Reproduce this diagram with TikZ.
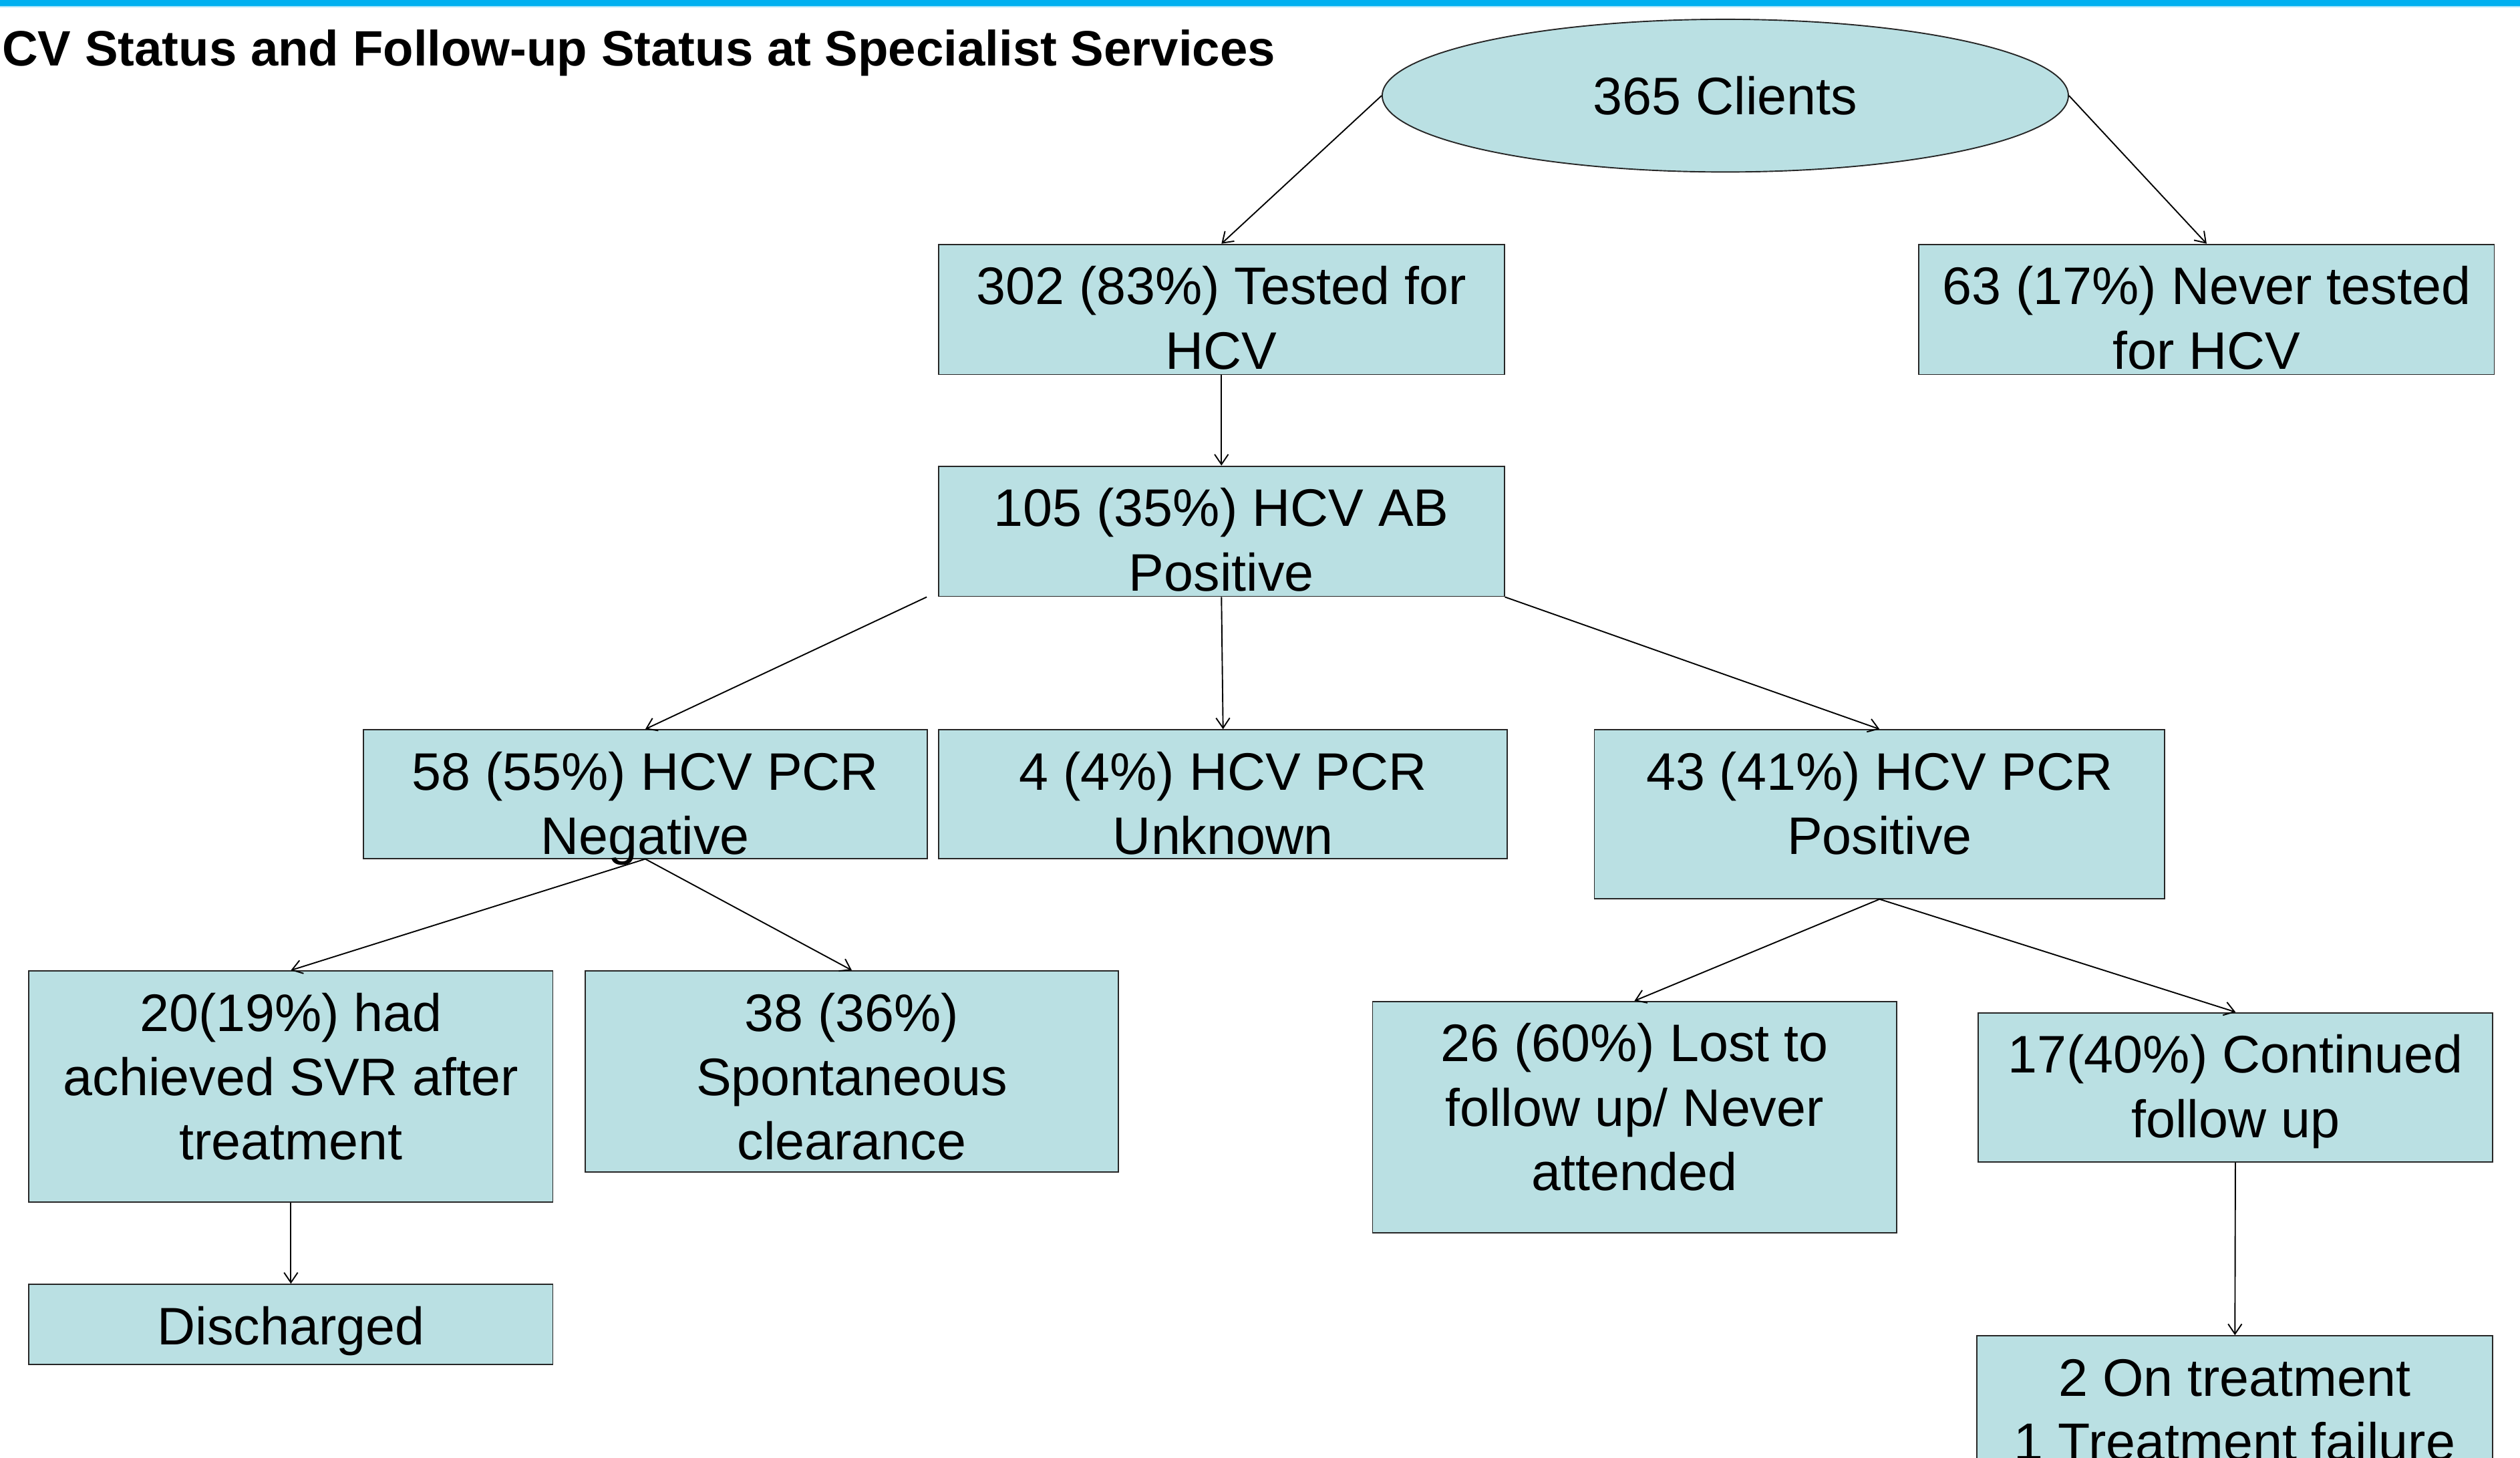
\documentclass[tikz,border=0pt]{standalone}
\usepackage{fontspec}
\setmainfont{Liberation Sans}
\usetikzlibrary{shapes.geometric,arrows.meta}

\definecolor{cajaazul}{RGB}{186,224,227}
\definecolor{barraazul}{RGB}{0,176,240}

\begin{document}
\begin{tikzpicture}[x=0.02cm,y=-0.02cm]

% marco de la figura
\useasboundingbox (0,0) rectangle (1568,906.7);
\clip (0,0) rectangle (1568,906.7);

% estilos de cajas y flechas
\tikzstyle{caja}   = [draw=black!85,line width=0.45pt,fill=cajaazul,align=center,
                      inner sep=0pt,font=\fontsize{18.7}{22.8}\selectfont]
\tikzstyle{flecha} = [line width=0.45pt,-{Straight Barb[length=1.25mm,width=1.7mm]}]

% caja con texto arriba
% #1: nombre de la caja
% #2: ubicación del centro ()
% #3: ancho
% #4: alto
% #5: texto
\newcommand{\caja}[5]{
	\node [caja] (#1) at #2
	{\parbox[c][#4][t]{#3}{\centering\rule{0pt}{0.75cm}#5}};
}

% barra superior
\fill [barraazul] (0,0) rectangle (1568,3.7);
\fill [barraazul!35] (0,3.7) rectangle (1568,4.4);

% titulo
\node [anchor=base west,inner sep=0pt,font=\bfseries\fontsize{17.6}{21}\selectfont]
	(titulo) at (1,41) {CV Status and Follow-up Status at Specialist Services};

% cajas
\node [caja,ellipse,minimum width=8.54cm,minimum height=1.9cm] (clientes) at (1073.5,59.5) {365 Clients};
\caja{testeados}{(760,192.5)}{7.04cm}{1.62cm}{302 (83\%) Tested for\\HCV}
\caja{nunca}{(1373,192.5)}{7.16cm}{1.62cm}{63 (17\%) Never tested\\for HCV}
\caja{abpos}{(760,330.5)}{7.04cm}{1.62cm}{105 (35\%) HCV AB\\Positive}
\caja{pcrneg}{(401.5,494)}{7.02cm}{1.6cm}{58 (55\%) HCV PCR\\Negative}
\caja{pcrdes}{(761,494)}{7.08cm}{1.6cm}{4 (4\%) HCV PCR\\Unknown}
\caja{pcrpos}{(1169.5,506.5)}{7.1cm}{2.1cm}{43 (41\%) HCV PCR\\Positive}
\caja{svr}{(181,676)}{6.52cm}{2.88cm}{20(19\%) had\\achieved SVR after\\treatment}
\caja{espont}{(530,666.5)}{6.64cm}{2.5cm}{38 (36\%)\\Spontaneous\\clearance}
\caja{perdidos}{(1017,695)}{6.52cm}{2.88cm}{26 (60\%) Lost to\\follow up/ Never\\attended}
\caja{continua}{(1391,676.5)}{6.4cm}{1.86cm}{17(40\%) Continued\\follow up}
\caja{alta}{(181,824)}{6.52cm}{1.0cm}{Discharged}
\caja{entrat}{(1390.5,877.5)}{6.42cm}{1.86cm}{2 On treatment\\1 Treatment failure}

% flechas
\coordinate (c1) at ([xshift=-0.14cm]abpos.south west);
\draw [flecha] (clientes.west) -- (testeados.north);
\draw [flecha] (clientes.east) -- (nunca.north);
\draw [flecha] (testeados) -- (abpos);
\draw [flecha] (c1) -- (pcrneg.north);
\draw [flecha] (abpos.south) -- (pcrdes.north);
\draw [flecha] (abpos.south east) -- (pcrpos.north);
\draw [flecha] (pcrneg.south) -- (svr.north);
\draw [flecha] (pcrneg.south) -- (espont.north);
\draw [flecha] (pcrpos.south) -- (perdidos.north);
\draw [flecha] (pcrpos.south) -- (continua.north);
\draw [flecha] (svr) -- (alta);
\draw [flecha] (continua) -- (entrat);

\end{tikzpicture}
\end{document}
